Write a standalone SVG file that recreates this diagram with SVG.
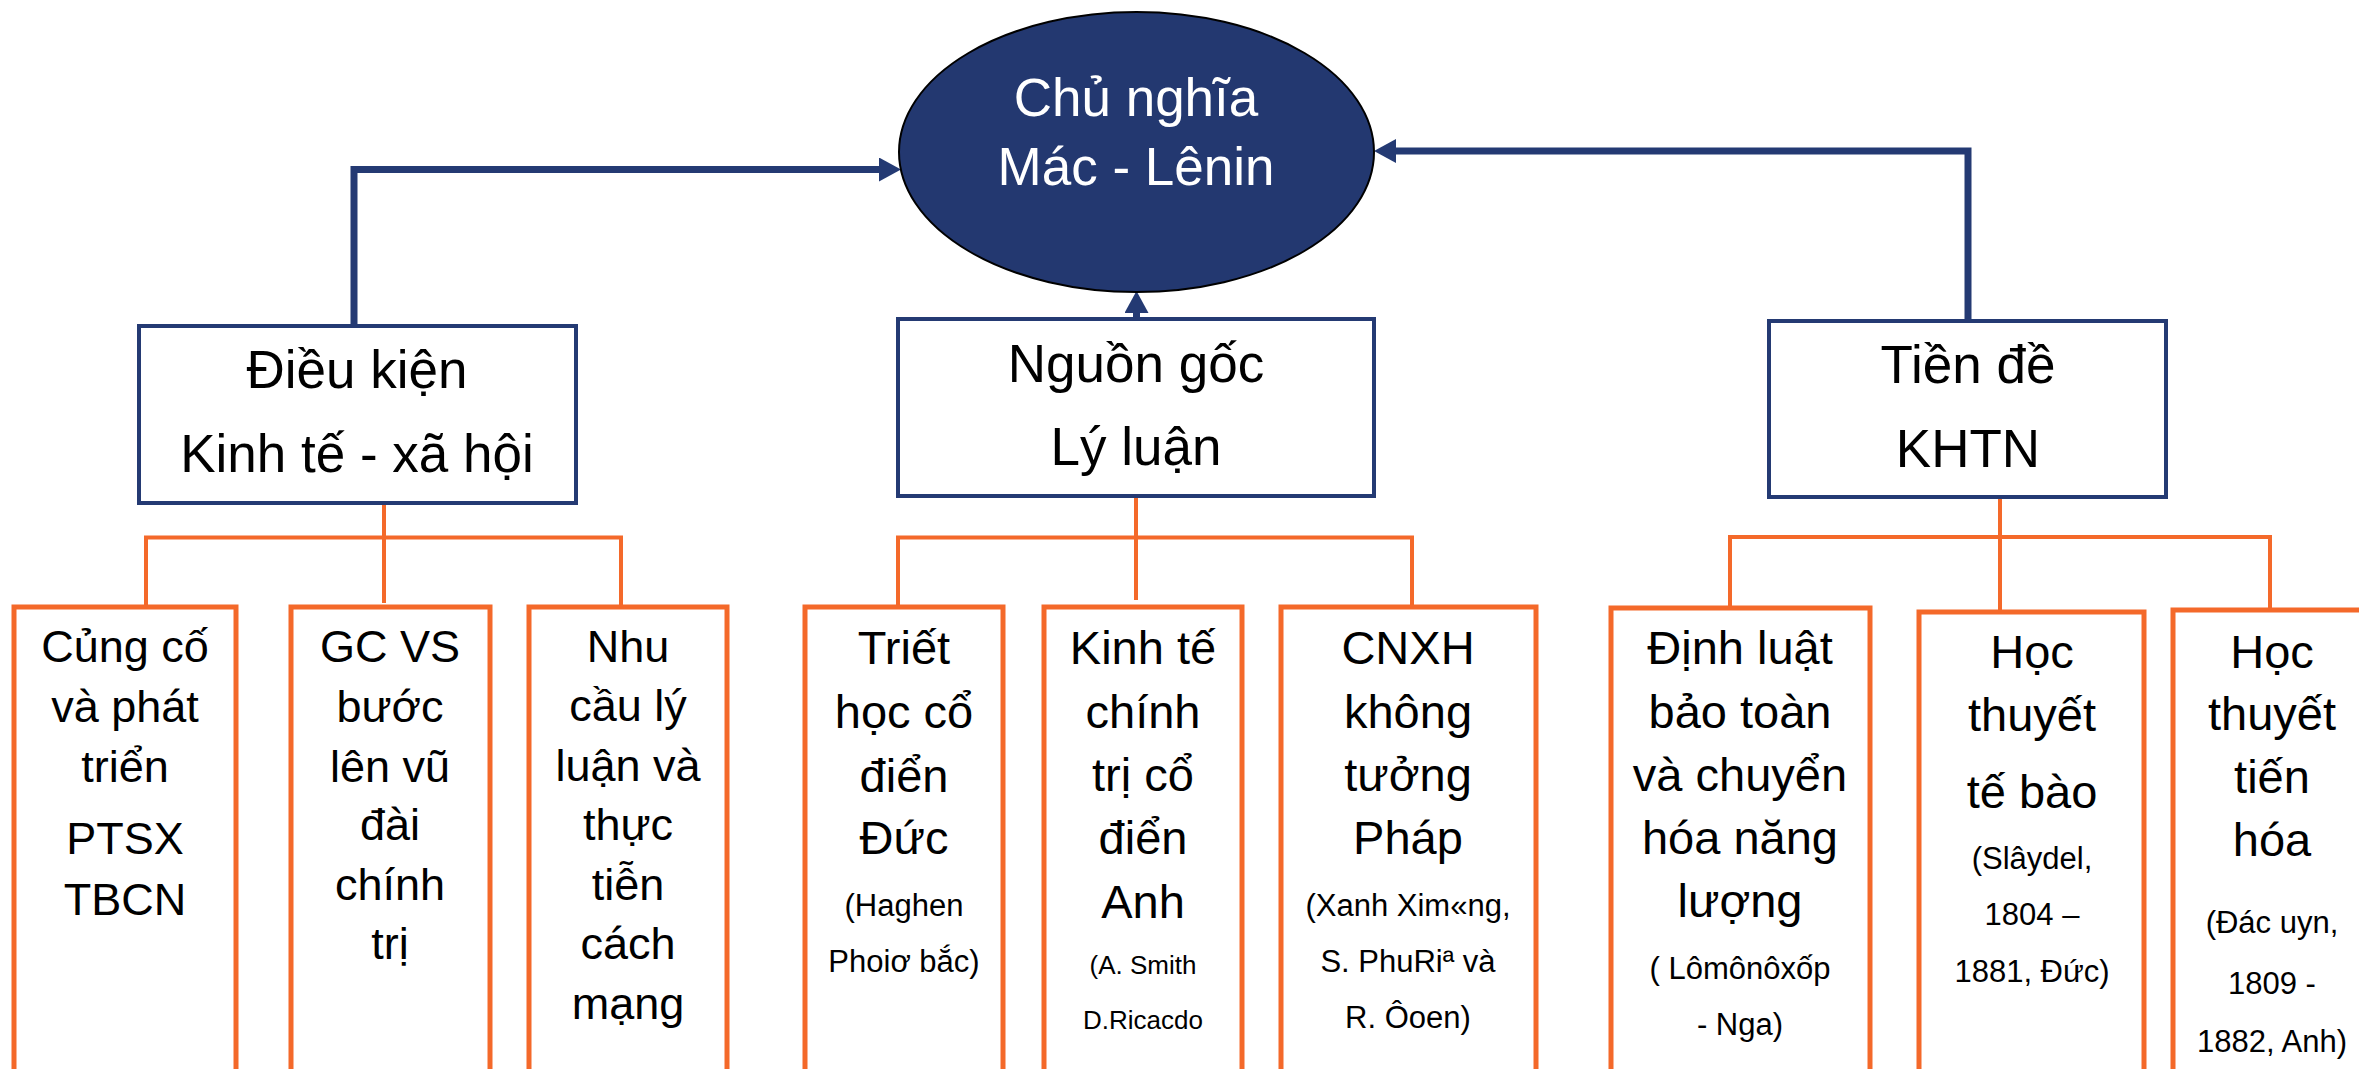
<svg xmlns="http://www.w3.org/2000/svg" width="2359" height="1069" viewBox="0 0 2359 1069">
<style>
text{font-family:"Liberation Sans",Arial,sans-serif;text-anchor:middle;fill:#000}
.t{font-size:53px}
.w{fill:#fff}
.a{font-size:45px}
.b{font-size:47px}
.s{font-size:31px}
.xs{font-size:26px}
.top{fill:#fff;stroke:#243A73;stroke-width:4}
.kid{fill:#fff;stroke:#F4692A;stroke-width:5}
.nav{fill:none;stroke:#243A73;stroke-width:7;stroke-linejoin:miter}
.org{fill:none;stroke:#F4692A;stroke-width:4}
</style>
<defs>
<marker id="ah" markerUnits="userSpaceOnUse" markerWidth="23" markerHeight="24" refX="12" refY="12" orient="auto">
<path d="M0,0 L22,12 L0,24 z" fill="#243A73"/>
</marker>
</defs>
<rect width="2359" height="1069" fill="#fff"/>
<g id="connectors">
<path class="nav" d="M354,326 V169.5 H891" marker-end="url(#ah)"/>
<path class="nav" d="M1136.5,319 V301" marker-end="url(#ah)"/>
<path class="nav" d="M1968,321 V151 H1384" marker-end="url(#ah)"/>
<path class="org" d="M384,503 V603 M146,607 V537.5 H621 V607"/>
<path class="org" d="M1136,496 V600 M898,607 V537.5 H1412 V607"/>
<path class="org" d="M2000,497 V612 M1730,608 V537 H2270 V610"/>
</g>
<g id="root">
<ellipse cx="1136.5" cy="152" rx="237.5" ry="140" fill="#233870" stroke="#000" stroke-width="2"/>
<text class="t w" x="1136" y="116">Chủ nghĩa</text>
<text class="t w" x="1136" y="185">Mác - Lênin</text>
</g>
<g id="dieukien">
<rect class="top" x="139" y="326" width="437" height="177"/>
<text class="t" x="357" y="388">Điều kiện</text>
<text class="t" x="357" y="472">Kinh tế - xã hội</text>
</g>
<g id="nguongoc">
<rect class="top" x="898" y="319" width="476" height="177"/>
<text class="t" x="1136" y="382">Nguồn gốc</text>
<text class="t" x="1136" y="465">Lý luận</text>
</g>
<g id="tiende">
<rect class="top" x="1769" y="321" width="397" height="176"/>
<text class="t" x="1968" y="383">Tiền đề</text>
<text class="t" x="1968" y="467">KHTN</text>
</g>
<g id="cungco">
<rect class="kid" x="14" y="607" width="222" height="500"/>
<text class="a" x="125"><tspan x="125" y="662">Củng cố</tspan><tspan x="125" y="722">và phát</tspan><tspan x="125" y="782">triển</tspan><tspan x="125" y="854">PTSX</tspan><tspan x="125" y="915">TBCN</tspan></text>
</g>
<g id="gcvs">
<rect class="kid" x="291" y="607" width="199" height="500"/>
<text class="a" x="390"><tspan x="390" y="662">GC VS</tspan><tspan x="390" y="722">bước</tspan><tspan x="390" y="782">lên vũ</tspan><tspan x="390" y="840">đài</tspan><tspan x="390" y="900">chính</tspan><tspan x="390" y="959">trị</tspan></text>
</g>
<g id="nhucau">
<rect class="kid" x="529" y="607" width="198" height="500"/>
<text class="a" x="628"><tspan x="628" y="662">Nhu</tspan><tspan x="628" y="721">cầu lý</tspan><tspan x="628" y="781">luận và</tspan><tspan x="628" y="840">thực</tspan><tspan x="628" y="900">tiễn</tspan><tspan x="628" y="959">cách</tspan><tspan x="628" y="1019">mạng</tspan></text>
</g>
<g id="triethoc">
<rect class="kid" x="805" y="607" width="198" height="500"/>
<text class="b" x="904"><tspan x="904" y="664">Triết</tspan><tspan x="904" y="728">học cổ</tspan><tspan x="904" y="792">điển</tspan><tspan x="904" y="854">Đức</tspan></text>
<text class="s" x="904"><tspan x="904" y="916">(Haghen</tspan><tspan x="904" y="972">Phoiơ bắc)</tspan></text>
</g>
<g id="kinhte">
<rect class="kid" x="1044" y="607" width="198" height="500"/>
<text class="b" x="1143"><tspan x="1143" y="664">Kinh tế</tspan><tspan x="1143" y="728">chính</tspan><tspan x="1143" y="791">trị cổ</tspan><tspan x="1143" y="854">điển</tspan><tspan x="1143" y="918">Anh</tspan></text>
<text class="xs" x="1143"><tspan x="1143" y="974">(A. Smith</tspan><tspan x="1143" y="1029">D.Ricacdo</tspan></text>
</g>
<g id="cnxh">
<rect class="kid" x="1281" y="607" width="255" height="500"/>
<text class="b" x="1408"><tspan x="1408" y="664">CNXH</tspan><tspan x="1408" y="728">không</tspan><tspan x="1408" y="791">tưởng</tspan><tspan x="1408" y="854">Pháp</tspan></text>
<text class="s" x="1408"><tspan x="1408" y="916">(Xanh Xim«ng,</tspan><tspan x="1408" y="972">S. PhuRiª và</tspan><tspan x="1408" y="1028">R. Ôoen)</tspan></text>
</g>
<g id="dinhluat">
<rect class="kid" x="1611" y="608" width="259" height="500"/>
<text class="b" x="1740"><tspan x="1740" y="664">Định luật</tspan><tspan x="1740" y="728">bảo toàn</tspan><tspan x="1740" y="791">và chuyển</tspan><tspan x="1740" y="854">hóa năng</tspan><tspan x="1740" y="917">lượng</tspan></text>
<text class="s" x="1740"><tspan x="1740" y="979">( Lômônôxốp</tspan><tspan x="1740" y="1035">- Nga)</tspan></text>
</g>
<g id="tebao">
<rect class="kid" x="1919" y="612" width="225" height="500"/>
<text class="b" x="2032"><tspan x="2032" y="668">Học</tspan><tspan x="2032" y="731">thuyết</tspan><tspan x="2032" y="808">tế bào</tspan></text>
<text class="s" x="2032"><tspan x="2032" y="869">(Slâydel,</tspan><tspan x="2032" y="925">1804 –</tspan><tspan x="2032" y="982">1881, Đức)</tspan></text>
</g>
<g id="tienhoa">
<rect class="kid" x="2173" y="610" width="220" height="500"/>
<text class="b" x="2272"><tspan x="2272" y="668">Học</tspan><tspan x="2272" y="730">thuyết</tspan><tspan x="2272" y="793">tiến</tspan><tspan x="2272" y="856">hóa</tspan></text>
<text class="s" x="2272"><tspan x="2272" y="933">(Đác uyn,</tspan><tspan x="2272" y="994">1809 -</tspan><tspan x="2272" y="1052">1882, Anh)</tspan></text>
</g>
</svg>
